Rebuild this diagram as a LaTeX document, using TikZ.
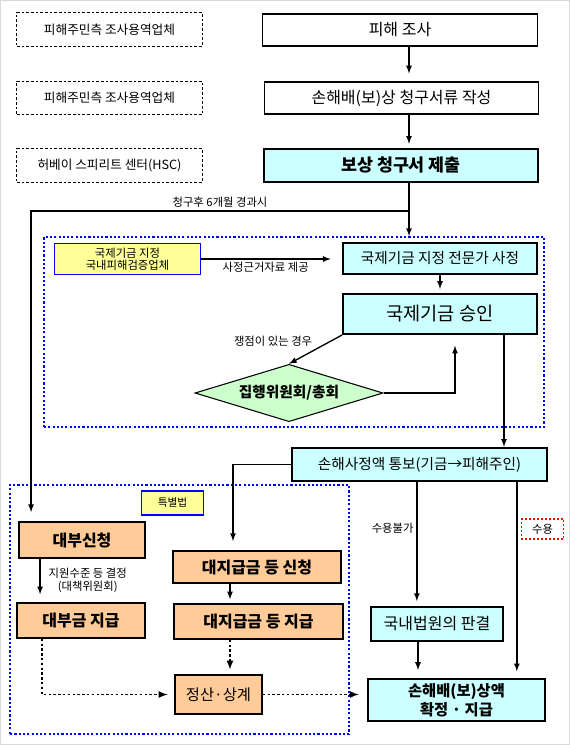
\documentclass[tikz,border=0pt]{standalone}
\usepackage{fontspec}
\setmainfont{Noto Sans CJK KR}
\usepackage{xcolor}
\usepackage{tikz}
\usetikzlibrary{shapes,arrows,positioning,fit}

\definecolor{fundcyan}{HTML}{CCFFFF}
\definecolor{laworange}{HTML}{FFCC99}
\definecolor{tagyellow}{HTML}{FFFF99}
\definecolor{judgegreen}{HTML}{CCFFCC}

\begin{document}
\begin{tikzpicture}[
    x=0.75pt, y=-0.75pt, >=latex,
    note/.style={rectangle, draw, dash pattern=on 2pt off 1.5pt, line width=0.6pt, minimum width=139pt, minimum height=25pt, font=\fontsize{9.5}{11}\selectfont},
    plain/.style={rectangle, draw, line width=0.8pt, minimum width=206pt, minimum height=24pt, font=\fontsize{12}{14}\selectfont},
    fund/.style={rectangle, draw, fill=fundcyan, line width=1.6pt, align=center},
    law/.style={rectangle, draw, fill=laworange, line width=1.4pt, align=center, font=\bfseries\fontsize{12}{14}\selectfont},
    tag/.style={rectangle, draw=blue, fill=tagyellow, line width=0.8pt, align=center},
    judge/.style={diamond, aspect=3.3, draw, fill=judgegreen, line width=0.8pt, inner sep=0pt, minimum width=141pt, minimum height=43pt, font=\bfseries\fontsize{11}{13}\selectfont},
    zone/.style={rectangle, draw=blue, dash pattern=on 1.6pt off 1.6pt, line width=1.5pt},
    lbl/.style={font=\fontsize{8.5}{10}\selectfont, inner sep=2pt},
    flow/.style={->, line width=1pt},
    dotflow/.style={->, line width=1.3pt, dash pattern=on 1.8pt off 1.8pt}
]
\useasboundingbox (0,0) rectangle (570,745);
\draw[black!15, line width=1.5pt] (0,0) rectangle (570,745);

% Dotted zones
\node[zone, minimum width=375pt, minimum height=142.5pt] (fundzone) at (294,332) {};
\node[zone, minimum width=254pt, minimum height=187pt] (lawzone) at (179.5,609.5) {};

% Left notes
\node[note] (note1) at (109.5,29.5) {피해주민측 조사용역업체};
\node[note] (note2) at (109.5,98) {피해주민측 조사용역업체};
\node[note] (note3) at (109.5,165.5) {허베이 스피리트 센터(HSC)};

% Claim steps
\node[plain] (survey) at (400,30) {피해 조사};
\node[plain] (claimdoc) at (401.5,98) {손해배(보)상 청구서류 작성};
\node[fund, minimum width=206pt, minimum height=25pt, font=\bfseries\fontsize{13}{15}\selectfont] (submit) at (401,165.5) {보상 청구서 제출};

% Fund level
\node[tag, minimum width=109pt, minimum height=23pt, font=\fontsize{8.5}{9}\selectfont] (verifier) at (127.5,259) {국제기금 지정\\국내피해검증업체};
\node[fund, minimum width=145.5pt, minimum height=23pt, font=\fontsize{11}{13}\selectfont] (expert) at (440,258.5) {국제기금 지정 전문가 사정};
\node[fund, minimum width=145.5pt, minimum height=30pt, font=\fontsize{14}{16}\selectfont] (approve) at (440,314) {국제기금 승인};
\node[judge] (board) at (289,393) {집행위원회/총회};

% Notice
\node[fund, minimum width=191pt, minimum height=25pt, font=\fontsize{11}{13}\selectfont] (notify) at (419.5,464.5) {손해사정액 통보(기금→피해주인)};

% Special law level
\node[tag, minimum width=47pt, minimum height=18pt, font=\fontsize{8}{10}\selectfont] (special) at (172.5,503) {특별법};
\node[law, minimum width=94.5pt, minimum height=27pt] (loanreq) at (82,540) {대부신청};
\node[law, minimum width=96pt, minimum height=26pt] (loanpay) at (81,620.5) {대부금 지급};
\node[law, minimum width=126pt, minimum height=24pt] (subreq) at (257,567) {대지급금 등 신청};
\node[law, minimum width=127pt, minimum height=26pt] (subpay) at (258.5,621.5) {대지급금 등 지급};
\node[law, minimum width=65pt, minimum height=29pt, font=\fontsize{11.5}{13}\selectfont] (settle) at (218.5,694.5) {정산·상계};

% Court and final
\node[fund, line width=1pt, minimum width=99pt, minimum height=25.5pt, font=\fontsize{12}{14}\selectfont] (court) at (437,624) {국내법원의 판결};
\node[fund, minimum width=133pt, minimum height=31.5pt, font=\bfseries\fontsize{11.5}{14}\selectfont] (final) at (456.5,700) {손해배(보)상액\\확정 · 지급};
\node[lbl, draw=red, dash pattern=on 1.5pt off 1.5pt, line width=0.8pt, minimum width=32pt, minimum height=15pt] (accept) at (542.5,529) {수용};

% Arrows
\coordinate (split) at (409,211);
\draw[flow, shorten >=6pt] (survey.south -| split) -- (claimdoc.north -| split);
\draw[flow, shorten >=3pt] (claimdoc.south -| split) -- (submit.north -| split);
\draw[line width=1pt] (submit.south -| split) -- (split);
\draw[flow] (split) -- (split |- fundzone.north);
\draw[flow] (split) -| ([xshift=9.75pt,yshift=6.75pt]loanreq.north west) node[lbl, above, pos=0.25] {청구후 6개월 경과시};

\draw[flow] (verifier.east) -- ++(97.5pt,0) node[lbl, below, midway] {사정근거자료 제공};
\draw[flow, shorten >=3pt] (expert.south) -- (approve.north);
\draw[flow] (approve.south west) -- (board.north) node[lbl, above left, midway] {쟁점이 있는 경우};
\draw[flow, shorten >=8pt] (board.east) -| ([xshift=11.25pt]approve.south);
\draw[flow] ([xshift=48pt]approve.south) -- ([xshift=48pt]approve.south |- notify.north);

\draw[flow, shorten >=6.75pt] (notify.west) -| ([xshift=-18pt]subreq.north);
\draw[flow, shorten >=4pt] ([xshift=-2pt]notify.south) -- ([xshift=-2pt]notify.south |- court.north) node[lbl, left, pos=0.37] {수용불가};
\draw[flow, shorten >=5pt] ([xshift=73pt]notify.south) -- ([xshift=73pt]notify.south |- final.north);
\draw[flow, shorten >=6pt] ([xshift=-14.25pt]court.south) -- ([xshift=-14.25pt]court.south |- final.north);

\draw[flow, shorten >=6pt] ([xshift=16.5pt]loanreq.south west) -- ([xshift=16.5pt]loanreq.south west |- loanpay.north) node[lbl, right, midway, xshift=4pt, align=center] {지원수준 등 결정\\(대책위원회)};
\draw[flow, shorten >=3pt] ([xshift=-20.25pt]subreq.south) -- ([xshift=-20.25pt]subreq.south |- subpay.north);
\draw[dotflow, shorten >=3.5pt] ([xshift=-21.4pt]subpay.south) -- ([xshift=-21.4pt]subpay.south |- settle.north);
\draw[dotflow, shorten >=5pt] ([xshift=-29.25pt]loanpay.south) |- (settle.west);
\draw[dotflow, shorten >=6pt] (settle.east) -- (settle.east -| final.west);

\end{tikzpicture}
\end{document}
